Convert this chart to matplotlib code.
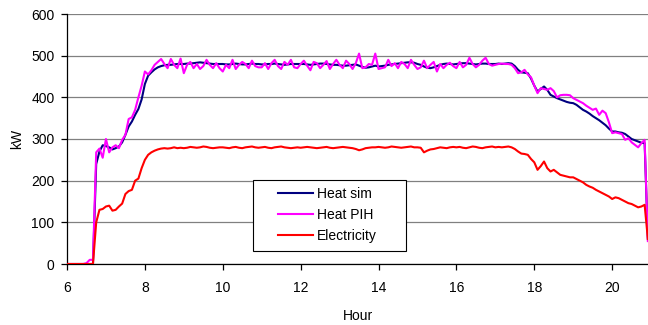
import numpy as np
import matplotlib
matplotlib.use("Agg")
import matplotlib.pyplot as plt
from matplotlib.patches import Rectangle

plt.rcParams["font.family"] = ["Liberation Sans", "DejaVu Sans"]

# 5-minute logged values, 06:00 .. 20:55
START_HOUR = 6
STEP_MIN = 5

heat_sim = [
    # 6
    0, 0, 0, 0, 0, 0, 0, 0, 0, 240, 270, 285,
    # 7
    283, 280, 275, 278, 282, 292, 310, 330, 342, 358, 372, 395,
    # 8
    432, 452, 460, 467, 472, 475, 477, 478, 478, 479, 480, 480,
    # 9
    480, 481, 481, 482, 483, 484, 483, 482, 481, 480, 480, 480,
    # 10
    480, 479, 479, 480, 481, 480, 479, 479, 480, 481, 480, 480,
    # 11
    479, 479, 480, 480, 481, 480, 479, 478, 479, 480, 480, 480,
    # 12
    480, 480, 479, 478, 479, 480, 481, 481, 480, 479, 478, 478,
    # 13
    477, 476, 476, 477, 478, 479, 476, 473, 471, 472, 474, 476,
    # 14
    474, 475, 476, 478, 479, 480, 481, 482, 483, 484, 484, 483,
    # 15
    480, 478, 474, 471, 470, 472, 475, 478, 480, 481, 480, 479,
    # 16
    480, 481, 482, 482, 481, 480, 479, 480, 481, 481, 480, 480,
    # 17
    480, 481, 480, 481, 482, 481, 475, 466, 460, 459, 458, 445,
    # 18
    428, 414, 420, 426, 418, 406, 402, 398, 395, 392, 389, 387,
    # 19
    386, 382, 376, 370, 366, 361, 355, 350, 345, 339, 333, 325,
    # 20
    318, 318, 316, 315, 312, 306, 300, 297, 294, 291, 290, 60,
]

heat_pih = [
    # 6
    0, 0, 0, 0, 0, 0, 2, 10, 10, 268, 277, 255,
    # 7
    300, 268, 280, 285, 278, 298, 310, 348, 352, 370, 400, 428,
    # 8
    462, 455, 465, 478, 485, 492, 480, 470, 492, 478, 470, 493,
    # 9
    458, 478, 485, 470, 480, 468, 475, 490, 478, 470, 482, 470,
    # 10
    462, 478, 470, 490, 468, 478, 485, 480, 470, 488, 475, 472,
    # 11
    472, 482, 468, 482, 490, 475, 468, 485, 478, 490, 472, 470,
    # 12
    480, 488, 476, 465, 485, 482, 470, 478, 487, 468, 480, 490,
    # 13
    478, 470, 488, 480, 468, 482, 505, 470, 472, 480, 478, 505,
    # 14
    468, 470, 472, 490, 475, 482, 470, 485, 480, 470, 490, 478,
    # 15
    468, 472, 488, 470, 478, 485, 462, 480, 470, 478, 483, 475,
    # 16
    470, 485, 472, 478, 495, 480, 472, 478, 488, 495, 480, 476,
    # 17
    478, 480, 481, 480, 480, 478, 470, 458, 460, 466, 455, 448,
    # 18
    428, 410, 422, 420, 418, 422, 415, 400, 405, 406, 406, 405,
    # 19
    398, 394, 390, 386, 380, 375, 370, 373, 358, 368, 362, 340,
    # 20
    314, 316, 314, 312, 298, 302, 292, 286, 280, 290, 298, 55,
]

electricity = [
    # 6
    0, 0, 0, 0, 0, 0, 0, 0, 0, 100, 130, 132,
    # 7
    138, 140, 128, 130, 138, 145, 168, 175, 178, 200, 205, 230,
    # 8
    250, 262, 268, 272, 275, 277, 278, 277, 278, 280, 278, 279,
    # 9
    278, 279, 281, 280, 279, 280, 282, 281, 279, 278, 279, 280,
    # 10
    280, 279, 278, 280, 281, 279, 278, 280, 281, 282, 280, 279,
    # 11
    280, 281, 279, 278, 280, 281, 282, 280, 279, 278, 279, 280,
    # 12
    279, 280, 281, 280, 279, 278, 279, 280, 281, 279, 278, 279,
    # 13
    280, 281, 280, 279, 278, 276, 273, 275, 278, 279, 280, 280,
    # 14
    281, 280, 279, 280, 282, 281, 280, 279, 280, 281, 282, 280,
    # 15
    280, 279, 268, 272, 275, 276, 278, 280, 279, 278, 280, 281,
    # 16
    280, 281, 279, 278, 280, 282, 281, 279, 278, 280, 281, 282,
    # 17
    280, 281, 280, 281, 282, 280, 276, 270, 265, 264, 262, 252,
    # 18
    244, 226, 235, 246, 230, 222, 226, 220, 214, 212, 210, 208,
    # 19
    208, 204, 200, 196, 190, 186, 183, 178, 174, 170, 166, 162,
    # 20
    156, 160, 158, 154, 150, 146, 144, 140, 136, 138, 142, 60,
]

hours = START_HOUR + np.arange(len(heat_sim)) * STEP_MIN / 60.0

x_ticks = [6, 8, 10, 12, 14, 16, 18, 20]
y_ticks = [0, 100, 200, 300, 400, 500, 600]

fig = plt.figure(figsize=(6.48, 3.25), dpi=100)
ax = fig.add_axes([67 / 648, 61 / 325, 581 / 648, 250 / 325])

ax.plot(hours, heat_sim, color="#000080", lw=1.5, label="Heat sim", zorder=3)
ax.plot(hours, heat_pih, color="#FF00FF", lw=1.5, label="Heat PIH", zorder=4)
ax.plot(hours, electricity, color="#FF0000", lw=1.5, label="Electricity", zorder=5)

ax.set_xlim(6, 20.92)
ax.set_ylim(0, 600)
ax.set_xticks(x_ticks)
ax.set_yticks(y_ticks)
ax.yaxis.grid(True, color="#808080", lw=0.9)
ax.set_axisbelow(True)

for side in ("top", "right"):
    ax.spines[side].set_visible(False)
for side in ("left", "bottom"):
    ax.spines[side].set_color("black")
    ax.spines[side].set_linewidth(0.9)

ax.tick_params(direction="out", length=4, width=0.9, labelsize=10)
ax.tick_params(axis="x", pad=8)
ax.tick_params(axis="y", pad=5)
ax.set_xlabel("Hour", fontsize=10, labelpad=10)
ax.set_ylabel("kW", fontsize=10, labelpad=5)

# wide Excel-style legend box, drawn separately so the padding can be uneven
box = Rectangle((0.320, 0.052), 0.263, 0.284, transform=ax.transAxes,
                facecolor="white", edgecolor="black", lw=0.8, zorder=9)
ax.add_patch(box)

leg = ax.legend(loc="center left", bbox_to_anchor=(0.363, 0.196), fontsize=10,
                frameon=False, handlelength=2.5, handletextpad=0.3,
                labelspacing=0.5, borderpad=0, borderaxespad=0)
leg.set_zorder(10)

fig.savefig("out.png", dpi=100)
